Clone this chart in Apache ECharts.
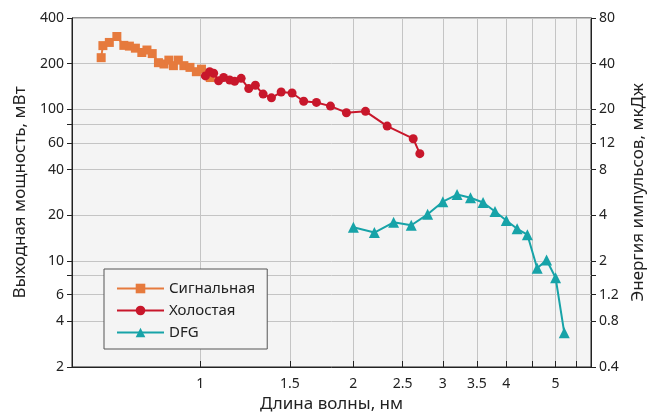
<!DOCTYPE html>
<html><head><meta charset="utf-8">
<script src="https://cdn.jsdelivr.net/npm/echarts@6/dist/echarts.min.js"></script>
<style>html,body{margin:0;padding:0;background:#fff}#c{width:657px;height:412px}</style>
</head><body><div id="c"></div>
<script>
const signalX = [0.638,0.643,0.662,0.685,0.707,0.725,0.745,0.767,0.785,0.804,0.827,0.848,0.867,0.885,0.905,0.928,0.954,0.982,1.005,1.046];
const signalY = [219,263,276,302,264,261,253,237,246,233,203,199,211,194,211,194,189,177,184,162];
const idlerX = [1.023,1.043,1.062,1.086,1.111,1.142,1.168,1.203,1.245,1.283,1.329,1.380,1.442,1.515,1.597,1.692,1.803,1.938,2.113,2.331,2.623,2.703];
const idlerY = [166,177,173,154,162,156,153,160,137,144,126,119,130,128,113,111,105,95,97,77.5,64,51];
const dfgX = [2.0,2.2,2.4,2.6,2.8,3.0,3.2,3.4,3.6,3.8,4.0,4.2,4.4,4.6,4.8,5.0,5.2];
const dfgY = [16.7,15.4,18.0,17.2,20.3,24.6,27.4,26.1,24.3,21.2,18.5,16.3,14.9,8.95,10.15,7.75,3.37];
const xGrid = [1,1.5,2,2.5,3,3.5,4,4.5,5,5.5];
const xLabels = [1,1.5,2,2.5,3,3.5,4,5];
const yGrid = [2,4,6,8,10,20,40,60,80,100,200,400];
const yLabels = [2,4,6,10,20,40,60,100,200,400];
const y2Ticks = [0.4,0.8,1.2,1.6,2,4,8,12,16,20,40,80];
const y2Labels = [0.4,0.8,1.2,2,4,8,12,20,40,80];
const names = ['Сигнальная','Холостая','DFG'];

const zip = (a,b)=>a.map((v,i)=>[v,b[i]]);
const FONT = 'Noto Sans';
const chart = echarts.init(document.getElementById('c'));
chart.setOption({
  animation:false,
  textStyle:{fontFamily:FONT,color:'#222'},
  grid:{left:72,right:66,top:18,bottom:45,outerBoundsMode:'none',containLabel:false,show:true,backgroundColor:'#f4f4f4',borderColor:'#222',borderWidth:1},
  legend:{
    orient:'vertical',left:104,top:269,
    padding:[12,12,9,12],itemWidth:47,itemHeight:12,itemGap:7,
    backgroundColor:'#f4f4f4',borderColor:'#555',borderWidth:1,
    textStyle:{fontFamily:FONT,fontSize:15,color:'#222'},
    data:names
  },
  xAxis:{
    type:'log',min:0.559,max:5.87,
    name:'Длина волны, нм',nameLocation:'middle',nameGap:26,
    nameTextStyle:{fontSize:17,color:'#222',fontFamily:FONT},
    axisLine:{lineStyle:{color:'#222'}},
    axisTick:{show:true,inside:true,length:6,customValues:xGrid,lineStyle:{color:'#222'}},
    axisLabel:{customValues:xLabels,fontSize:14,color:'#222',margin:10},
    splitLine:{show:true,lineStyle:{color:'#c4c4c4',width:1}},
    minorSplitLine:{show:false}
  },
  yAxis:[{
    type:'log',min:2,max:400,
    name:'Выходная мощность, мВт',nameLocation:'middle',nameGap:40,
    nameTextStyle:{fontSize:17,color:'#222',fontFamily:FONT},
    axisLine:{show:true,lineStyle:{color:'#222'}},
    axisTick:{show:true,inside:false,length:5,customValues:yGrid,lineStyle:{color:'#222'}},
    axisLabel:{customValues:yLabels,fontSize:14,color:'#222',margin:8},
    splitLine:{show:true,lineStyle:{color:'#c4c4c4',width:1}}
  },{
    type:'log',min:0.4,max:80,position:'right',
    name:'Энергия импульсов, мкДж',nameLocation:'middle',nameGap:34,nameRotate:90,
    nameTextStyle:{fontSize:17,color:'#222',fontFamily:FONT},
    axisLine:{show:true,lineStyle:{color:'#222'}},
    axisTick:{show:true,inside:false,length:5,customValues:y2Ticks,lineStyle:{color:'#222'}},
    axisLabel:{customValues:y2Labels,fontSize:14,color:'#222',margin:8},
    splitLine:{show:false}
  }],
  series:[
    {name:names[0],type:'line',data:zip(signalX,signalY),symbol:'rect',symbolSize:9,
     itemStyle:{color:'#e67a3d'},lineStyle:{color:'#e67a3d',width:2}},
    {name:names[1],type:'line',data:zip(idlerX,idlerY),symbol:'circle',symbolSize:9,
     itemStyle:{color:'#c8172b'},lineStyle:{color:'#c8172b',width:2}},
    {name:names[2],type:'line',data:zip(dfgX,dfgY),symbol:'triangle',symbolSize:11,
     itemStyle:{color:'#17a3a8'},lineStyle:{color:'#17a3a8',width:2}}
  ]
});
</script></body></html>
